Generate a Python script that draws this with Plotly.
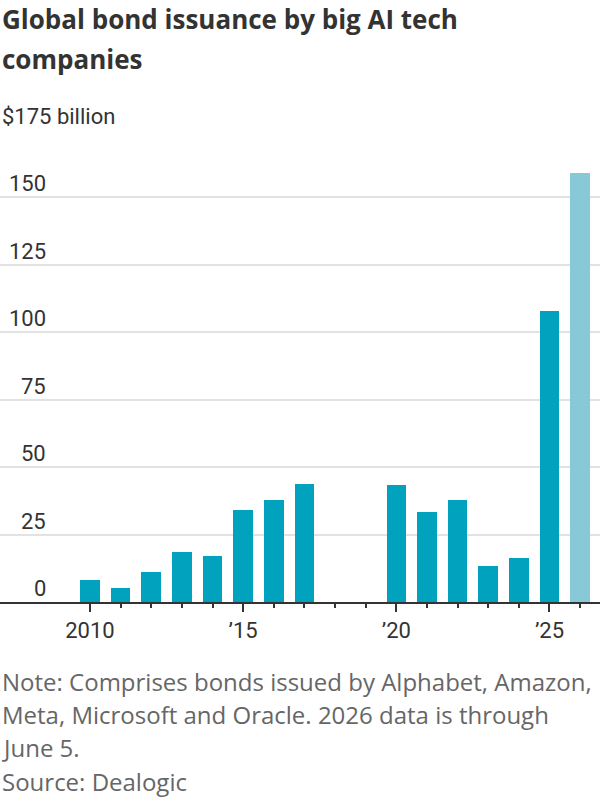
import plotly.graph_objects as go

# ---- data ----
years = list(range(2010, 2027))
issuance = [8.1, 5.1, 11.1, 18.5, 17.0, 34.2, 37.9, 43.9, 0, 0,
            43.2, 33.5, 37.9, 13.3, 16.3, 107.8, 159.2]
partial_year = 2026
x_tick_vals = [2010, 2015, 2020, 2025]
x_tick_text = ["2010", "\u201915", "\u201920", "\u201925"]
y_tick_vals = [0, 25, 50, 75, 100, 125, 150, 175]
y_tick_text = ["0", "25", "50", "75", "100", "125", "150", "$175 billion"]

title_lines = ["Global bond issuance by big AI tech", "companies"]
note_lines = ["Note: Comprises bonds issued by Alphabet, Amazon,",
              "Meta, Microsoft and Oracle. 2026 data is through",
              "June 5.",
              "Source: Dealogic"]

# ---- styling ----
W, H = 600, 800
TOP, BASE = 130, 602
DARK = "#333333"
TEAL = "#00a2bd"
LIGHT = "#88c9d7"
TICK_FONT = dict(family="Roboto, sans-serif", size=22, color=DARK)


def py(ypix):
    return (BASE - ypix) / (BASE - TOP)


colors = [LIGHT if y == partial_year else TEAL for y in years]

fig = go.Figure()
fig.add_trace(go.Bar(x=years, y=issuance, marker=dict(color=colors, line=dict(width=0)),
                     width=0.64, hoverinfo="skip"))

annotations = []
for v, t in zip(y_tick_vals, y_tick_text):
    if v == y_tick_vals[-1]:
        annotations.append(dict(x=0, xref="paper", xanchor="left", y=v, yref="y",
                                yanchor="bottom", text=t, showarrow=False,
                                font=TICK_FONT, yshift=-1))
    else:
        annotations.append(dict(x=48.5 / W, xref="paper", xanchor="right", y=v, yref="y",
                                yanchor="bottom", text=t, showarrow=False,
                                font=TICK_FONT, yshift=-1))

title_centers = [19, 59]
for line, yc in zip(title_lines, title_centers):
    annotations.append(dict(x=0, xref="paper", xanchor="left", y=py(yc), yref="paper",
                            yanchor="middle", text="<b>" + line + "</b>", showarrow=False,
                            font=dict(family="Open Sans, sans-serif", size=26, color=DARK)))

note_centers = [681, 714, 747, 781]
for line, yc in zip(note_lines, note_centers):
    annotations.append(dict(x=0, xref="paper", xanchor="left", y=py(yc), yref="paper",
                            yanchor="middle", text=line, showarrow=False,
                            font=dict(family="Open Sans, sans-serif", size=24, color="#666666")))

fig.update_layout(
    width=W, height=H,
    margin=dict(l=0, r=0, t=TOP, b=H - BASE),
    paper_bgcolor="white", plot_bgcolor="white",
    showlegend=False,
    bargap=0,
    xaxis=dict(range=[2007.062, 2026.65], tickmode="array", tickvals=x_tick_vals,
               ticktext=x_tick_text, ticks="outside", ticklen=8, tickwidth=2,
               tickcolor=DARK, showline=True, linecolor=DARK, linewidth=2,
               showgrid=False, zeroline=False, tickfont=TICK_FONT,
               minor=dict(tickmode="array", tickvals=years, ticks="outside",
                          ticklen=4, tickwidth=2, tickcolor=DARK, showgrid=False),
               fixedrange=True),
    yaxis=dict(range=[0, 175], tickmode="array", tickvals=y_tick_vals,
               showticklabels=False, showgrid=True, gridcolor="#e2e2e2", gridwidth=2,
               zeroline=False, showline=False, fixedrange=True),
    annotations=annotations,
)

fig.write_html("out.html")
